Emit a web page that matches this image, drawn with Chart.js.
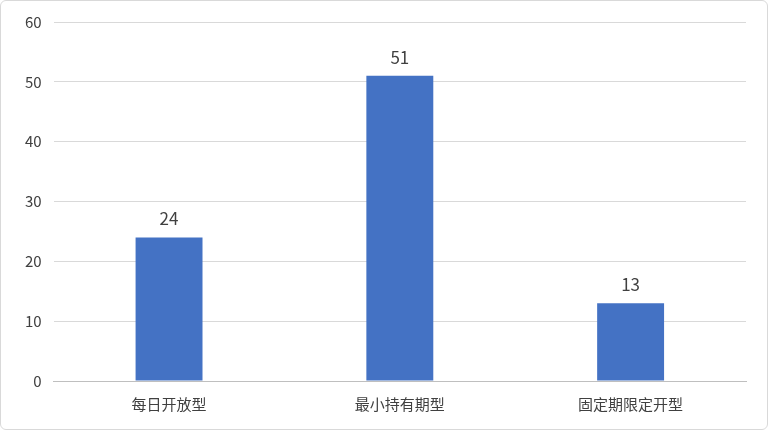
<!DOCTYPE html>
<html lang="zh">
<head>
    <meta charset="UTF-8">
    <title>chart</title>
    <script src="https://cdn.jsdelivr.net/npm/chart.js@4"></script>
    <style>
        body { margin: 0; background: #fff; }
        #wrap { width: 766px; height: 428px; border: 1px solid #d9d9d9; border-radius: 6px; box-sizing: content-box; }
    </style>
</head>
<body>
    <div id="wrap"><canvas id="mychart" width="766" height="428"></canvas></div>
    <script>
        const categories = ["每日开放型", "最小持有期型", "固定期限定开型"]
        const values = [24, 51, 13]
        const yTicks = [0, 10, 20, 30, 40, 50, 60]

        const font = '"Noto Sans CJK SC", "Noto Sans", sans-serif'

        // labels above bars
        const valueLabels = {
            id: 'valueLabels',
            afterDatasetsDraw(chart) {
                const ctx = chart.ctx
                const meta = chart.getDatasetMeta(0)
                ctx.save()
                ctx.fillStyle = '#404040'
                ctx.font = '17px ' + font
                ctx.textAlign = 'center'
                ctx.textBaseline = 'bottom'
                meta.data.forEach(function (bar, i) {
                    ctx.fillText(values[i], bar.x, bar.y - 10)
                })
                ctx.restore()
            }
        }

        new Chart(document.getElementById('mychart'), {
            type: 'bar',
            data: {
                labels: categories,
                datasets: [{
                    data: values,
                    backgroundColor: '#4472c4',
                    barPercentage: 0.29,
                    categoryPercentage: 1
                }]
            },
            options: {
                responsive: false,
                animation: false,
                layout: { padding: { top: 14, right: 21, left: 12, bottom: 10 } },
                plugins: { legend: { display: false }, tooltip: { enabled: false } },
                scales: {
                    x: {
                        grid: { display: false },
                        border: { color: '#bfbfbf' },
                        ticks: { color: '#404040', font: { size: 15, family: font }, padding: 6 }
                    },
                    y: {
                        min: 0, max: 60,
                        afterBuildTicks: function (axis) { axis.ticks = yTicks.map(v => ({ value: v })) },
                        grid: { color: '#d9d9d9', drawTicks: false },
                        border: { display: false },
                        ticks: { color: '#404040', font: { size: 15, family: font }, padding: 12 }
                    }
                }
            },
            plugins: [valueLabels]
        })
    </script>
</body>
</html>
